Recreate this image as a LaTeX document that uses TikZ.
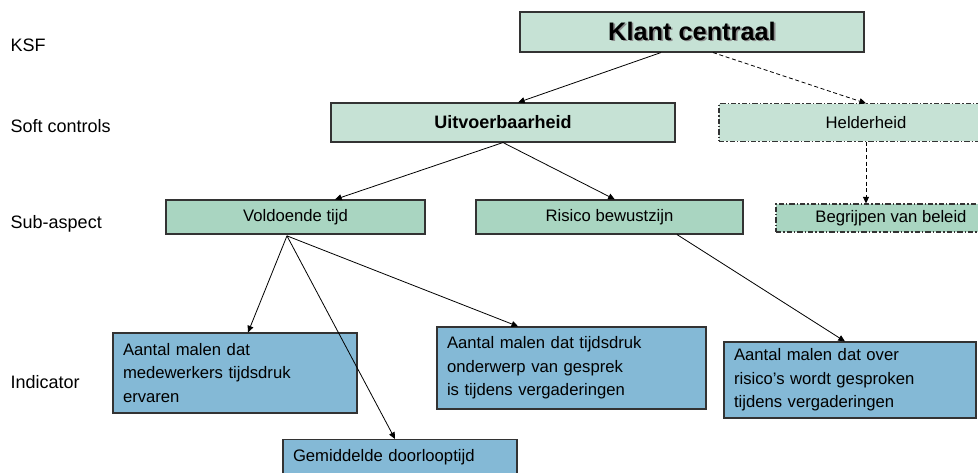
\documentclass[tikz,border=0pt]{standalone}
\usepackage{fontspec}
\setmainfont{Liberation Sans}
\usepackage{xcolor}
\usetikzlibrary{arrows.meta}
\definecolor{topc}{HTML}{C6E2D5}
\definecolor{subc}{HTML}{A9D5C1}
\definecolor{indc}{HTML}{84B9D6}
\definecolor{linec}{HTML}{333333}
\tikzset{
  ar/.style={-{Triangle[length=5pt,width=4.5pt]},semithick,black},
  dar/.style={ar,dash pattern=on 3pt off 2pt},
  box/.style={draw=linec,thick,fill=topc,align=center,inner sep=0pt},
  dbox/.style={box,dash pattern=on 4pt off 1.5pt on 1pt off 1.5pt},
  indbox/.style={draw=linec,thick,fill=indc,align=left,inner xsep=7.5pt,inner ysep=0pt},
  lbl/.style={anchor=west,font=\fontsize{13.5}{16}\selectfont}
}
\begin{document}
\begin{tikzpicture}[x=0.75pt,y=-0.75pt,font=\fontsize{12.5}{17.5}\selectfont]
\useasboundingbox (0,0) rectangle (978,472);
% levels
\node[lbl] (lksf) at (6,45) {KSF};
\node[lbl] (lsoft) at (6,126) {Soft controls};
\node[lbl] (lsub) at (6,224) {Sub-aspect};
\node[lbl] (lind) at (6,382) {Indicator};
% soft controls
\node[box,minimum width=258pt,minimum height=30pt,font=\fontsize{19}{22}\bfseries] (ksf) at (692,32)
  {\makebox[0pt][l]{\raisebox{-1.2pt}{\hspace{1.2pt}\textcolor{black!45}{Klant centraal}}}Klant centraal};
\node[box,minimum width=258pt,minimum height=29.25pt,font=\fontsize{13.5}{16}\bfseries] (uitv) at (503,122.5) {Uitvoerbaarheid};
\node[dbox,minimum width=220.5pt,minimum height=28pt] (helder) at (866,122.5) {Helderheid};
% sub-aspects
\node[box,fill=subc,minimum width=194.25pt,minimum height=25.5pt] (vold) at (295.5,217) {Voldoende tijd};
\node[box,fill=subc,minimum width=200.25pt,minimum height=25.5pt] (risico) at (609.5,217) {Risico bewustzijn};
\node[dbox,fill=subc,minimum width=172.5pt,minimum height=21pt] (begr) at (891,218) {Begrijpen van beleid};
% indicators
\node[indbox,text width=168pt,minimum height=60pt] (ind1) at (235,373)
  {Aantal malen dat\\medewerkers tijdsdruk\\ervaren};
\node[indbox,text width=186.75pt,minimum height=61.5pt] (ind2) at (571.5,368)
  {Aantal malen dat tijdsdruk\\onderwerp van gesprek\\is tijdens vergaderingen};
\node[indbox,text width=174pt,minimum height=57pt] (ind3) at (850,380)
  {Aantal malen dat over\\risico's wordt gesproken\\tijdens vergaderingen};
\node[indbox,text width=160.5pt,minimum height=26pt,anchor=north] (ind4) at (400,439)
  {Gemiddelde doorlooptijd};
% connectors
\draw[ar] ([xshift=-23.25pt]ksf.south) -- ([xshift=11.25pt]uitv.north);
\draw[dar] ([xshift=15.75pt]ksf.south) -- (helder.north);
\draw[ar] (uitv.south) -- ([xshift=29.6pt]vold.north);
\draw[ar] (uitv.south) -- ([xshift=4pt]risico.north);
\draw[dar] (helder.south) -- ([xshift=-18.75pt]begr.north);
\coordinate (vs) at ([xshift=-6.4pt,yshift=-1pt]vold.south);
\draw[ar] (vs) -- ([xshift=9.75pt]ind1.north);
\draw[ar] (vs) -- ([xshift=-3.75pt]ind4.north);
\draw[ar] (vs) -- ([xshift=-40pt]ind2.north);
\draw[ar] ([xshift=50.6pt]risico.south) -- ([xshift=-3.75pt]ind3.north);
\end{tikzpicture}
\end{document}
